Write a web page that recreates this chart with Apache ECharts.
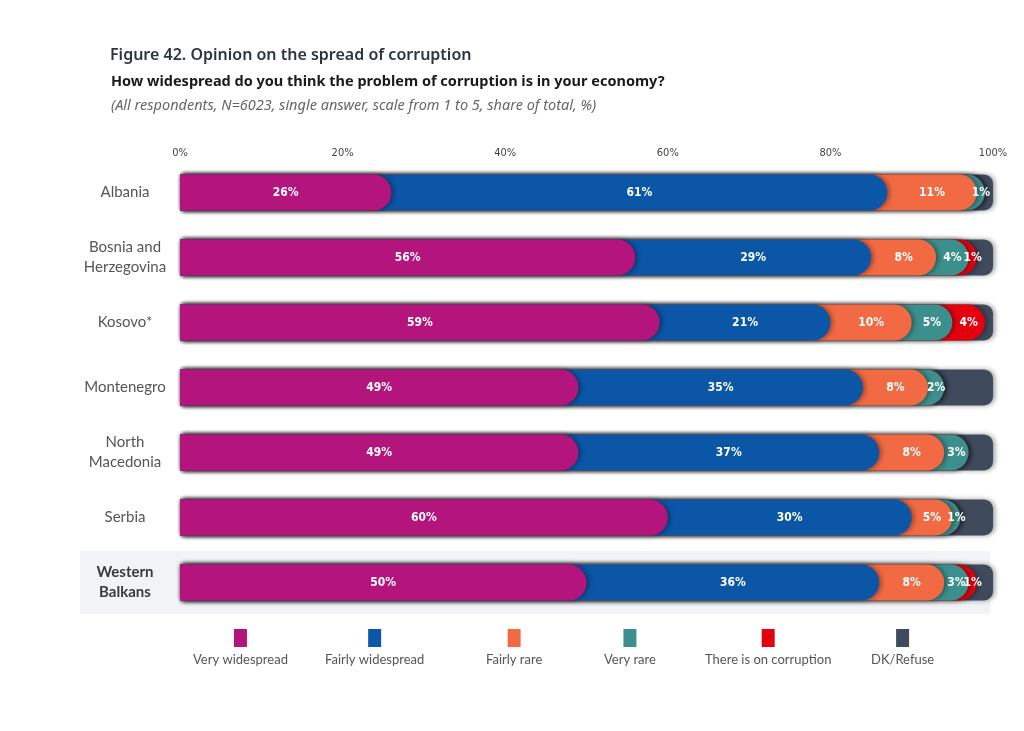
<!DOCTYPE html>
<html lang="en" style="height: 100%">
<head>
  <meta charset="utf-8">
</head>
<body style="height: 100%; margin: 0; background: #fff">
  <div id="container" style="height: 100%"></div>

  <script type="text/javascript" src="https://cdn.jsdelivr.net/npm/echarts@6/dist/echarts.min.js"></script>

  <script type="text/javascript">
    var categories = ['Albania', 'Bosnia and\nHerzegovina', 'Kosovo*', 'Montenegro', 'North\nMacedonia', 'Serbia', 'Western\nBalkans'];
    var seriesNames = ['Very widespread', 'Fairly widespread', 'Fairly rare', 'Very rare', 'There is on corruption', 'DK/Refuse'];
    var veryWidespread   = [26, 56, 59, 49, 49, 60, 50];
    var fairlyWidespread = [61, 29, 21, 35, 37, 30, 36];
    var fairlyRare       = [11, 8, 10, 8, 8, 5, 8];
    var veryRare         = [1, 4, 5, 2, 3, 1, 3];
    var noCorruption     = [0, 1, 4, 0, 0, 0, 1];
    var dkRefuse         = [1, 2, 1, 6, 3, 4, 2];
    var xTicks = [0, 20, 40, 60, 80, 100];

    var colors = ['#b3157d', '#0b56a6', '#f26a43', '#3b8f8c', '#e5000f', '#3f4a5c'];
    var values = [veryWidespread, fairlyWidespread, fairlyRare, veryRare, noCorruption, dkRefuse];

    var dom = document.getElementById('container');
    var myChart = echarts.init(dom, null, { renderer: 'canvas' });

    var labelFont = '"DejaVu Sans Condensed", "Open Sans", sans-serif';
    var textFont = 'Lato, "Open Sans", sans-serif';
    var titleFont = '"Noto Sans", "Open Sans", sans-serif';

    // cumulative bars drawn back to front, so each segment's rounded end sits over the next one
    var series = [];
    for (var i = values.length - 1; i >= 0; i--) {
      var cum = categories.map(function (c, k) {
        var s = 0;
        for (var j = 0; j <= i; j++) s += values[j][k];
        return s;
      });
      series.push({
        name: seriesNames[i],
        type: 'bar',
        barWidth: 36,
        barGap: '-100%',
        data: cum,
        itemStyle: {
          color: colors[i],
          borderRadius: i === values.length - 1 ? [0, 9, 9, 0] : [0, 18, 18, 0],
          shadowColor: 'rgba(0,0,0,0.4)',
          shadowBlur: 5,
          shadowOffsetX: 2
        },
        silent: true
      });
    }
    // transparent stacked bars carrying the value labels
    values.forEach(function (v, i) {
      series.push({
        name: 'lbl' + i,
        type: 'bar',
        stack: 'labels',
        barWidth: 36,
        barGap: '-100%',
        data: v,
        itemStyle: { color: 'transparent' },
        silent: true,
        label: {
          show: i < 5,
          position: 'inside',
          color: '#fff',
          fontFamily: labelFont,
          fontWeight: 'bold',
          fontSize: 12,
          formatter: function (p) { return p.value > 0 ? p.value + '%' : ''; }
        }
      });
    });

    // one legend per item, centred under the reference positions
    var legendCenters = [235, 370, 509, 625, 763, 898];
    var ctx = document.createElement('canvas').getContext('2d');
    ctx.font = '13px ' + textFont;
    var legends = seriesNames.map(function (name, i) {
      var w = ctx.measureText(name).width;
      var rich = {
        t: { fontFamily: textFont, fontSize: 13, color: '#555', align: 'center', padding: [6, 0, 0, 0] }
      };
      rich['c' + i] = { backgroundColor: colors[i], width: 13, height: 18, align: 'center' };
      return {
        data: [name],
        left: Math.round(legendCenters[i] - w / 2 - 5),
        top: 624,
        itemWidth: 0,
        itemHeight: 0,
        selectedMode: false,
        formatter: function (n) { return '{c' + i + '| }\n{t|' + n + '}'; },
        textStyle: { rich: rich }
      };
    });

    var option = {
      animation: false,
      title: [
        { text: 'Figure 42. Opinion on the spread of corruption', left: 105, top: 42,
          textStyle: { fontFamily: titleFont, fontSize: 16, fontWeight: 600, color: '#2b3645' } },
        { text: 'How widespread do you think the problem of corruption is in your economy?', left: 106, top: 69,
          textStyle: { fontFamily: titleFont, fontSize: 14.5, fontWeight: 'bold', color: '#1a1a1a' } },
        { text: '(All respondents, N=6023, single answer, scale from 1 to 5, share of total, %)', left: 106, top: 93,
          textStyle: { fontFamily: titleFont, fontSize: 14.5, fontStyle: 'italic', fontWeight: 'normal', color: '#666' } }
      ],
      legend: legends,
      grid: { left: 180, right: 31, top: 160, bottom: 116 },
      xAxis: {
        type: 'value',
        position: 'top',
        min: xTicks[0],
        max: xTicks[xTicks.length - 1],
        interval: 20,
        axisLine: { show: false },
        axisTick: { show: false },
        splitLine: { show: false },
        axisLabel: {
          margin: 1,
          color: '#444',
          fontFamily: labelFont,
          fontSize: 11,
          formatter: '{value}%'
        }
      },
      yAxis: {
        type: 'category',
        inverse: true,
        data: categories,
        axisLine: { show: false },
        axisTick: { show: false },
        axisLabel: {
          margin: 55,
          align: 'center',
          color: '#555',
          fontFamily: textFont,
          fontSize: 15,
          lineHeight: 20,
          formatter: function (v) {
            if (v.indexOf('Western') === 0) {
              return v.split('\n').map(function (s) { return '{b|' + s + '}'; }).join('\n');
            }
            return v;
          },
          rich: { b: { fontFamily: textFont, fontSize: 15, fontWeight: 'bold', color: '#3a3a3a', lineHeight: 20 } }
        }
      },
      series: series
    };

    myChart.setOption(option);

    // light band behind the Western Balkans row
    var last = categories[categories.length - 1];
    var yc = myChart.convertToPixel({ yAxisIndex: 0 }, last);
    var yp = myChart.convertToPixel({ yAxisIndex: 0 }, categories[categories.length - 2]);
    var band = yc - yp;
    myChart.setOption({
      graphic: [{
        type: 'rect',
        z: -10,
        silent: true,
        shape: { x: 80, y: yc - band / 2 + 1, width: 910, height: band - 2 },
        style: { fill: '#f2f3f6' }
      }]
    });

    window.addEventListener('resize', myChart.resize);
  </script>
</body>
</html>
